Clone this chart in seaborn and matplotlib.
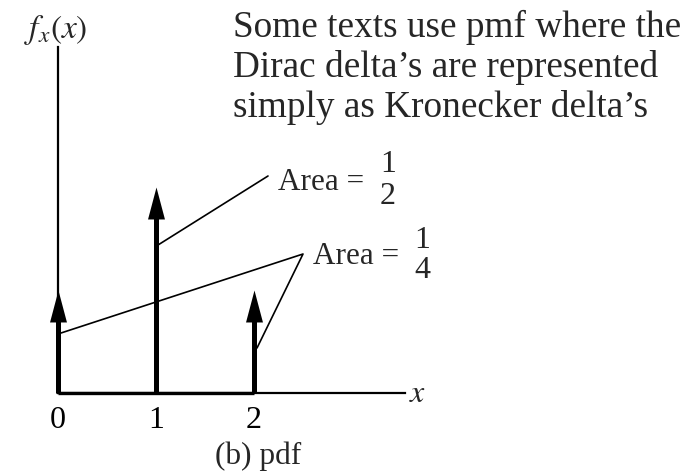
import numpy as np
import matplotlib
matplotlib.use("Agg")
import matplotlib.pyplot as plt
from matplotlib.path import Path
import seaborn as sns

# ---- data ----
xs = [0, 1, 2]
areas = [0.25, 0.5, 0.25]
tick_labels = ["0", "1", "2"]
area_labels = [("1", "2"), ("1", "4")]
note_lines = ["Some texts use pmf where the",
              "Dirac delta\u2019s are represented",
              "simply as Kronecker delta\u2019s"]

sns.set_theme(style="white")
plt.rcParams["font.family"] = ["Liberation Serif", "DejaVu Serif"]
plt.rcParams["mathtext.fontset"] = "stix"

W, H = 699, 475
fig = plt.figure(figsize=(W / 100, H / 100), dpi=100)
ax = fig.add_axes([0, 0, 1, 1])

X0, Y0, SX, SY = 58, 393, 98, 412  # pixel origin and pixels per unit
ax.set_xlim(-X0 / SX, (W - X0) / SX)
ax.set_ylim((Y0 - H) / SY, Y0 / SY)

def d(px, py):
    return ((px - X0) / SX, (Y0 - py) / SY)

def P(px, py):
    return (px / W, 1 - py / H)

# axes spines as the plot axes
for s in ["top", "right"]:
    ax.spines[s].set_visible(False)
ax.spines["left"].set_position(("data", 0))
ax.spines["bottom"].set_position(("data", 0))
ax.spines["left"].set_bounds(0, d(0, 47)[1])
ax.spines["bottom"].set_bounds(0, d(405, 0)[0])
for s in ["left", "bottom"]:
    ax.spines[s].set_color("black")
    ax.spines[s].set_linewidth(1.6)
ax.hlines(0, min(xs), max(xs), color="black", lw=2.4, zorder=3)

ax.set_xticks(xs)
ax.set_xticklabels(tick_labels, fontsize=23)
ax.set_yticks([])
ax.tick_params(axis="x", length=0, pad=9, colors="black")
ax.grid(False)

# stems + arrowheads
head_len = 32 / SY
ax.vlines(xs, 0, np.array(areas) - head_len * 0.9, color="black", lw=3.6, zorder=4)
tri = Path([(-0.265, -1.0), (0.265, -1.0), (0.0, 0.0), (-0.265, -1.0)],
           [Path.MOVETO, Path.LINETO, Path.LINETO, Path.CLOSEPOLY])
sns.scatterplot(x=xs, y=areas, marker=tri, s=2120, color="black",
                linewidth=0, ax=ax, zorder=5, clip_on=False, legend=False)

# pointer lines
lw = 1.2
p = [d(X0 + SX * 1 + 2, 245), d(268, 176)]
ax.plot([p[0][0], p[1][0]], [p[0][1], p[1][1]], color="black", lw=lw)
v = d(303, 254)
a0 = d(X0 + 3, 333)
a2 = d(X0 + 2 * SX + 3, 348)
ax.plot([a0[0], v[0], a2[0]], [a0[1], v[1], a2[1]], color="black", lw=lw)

# area labels
ax.text(*P(278, 182), "Area =", transform=ax.transAxes, fontsize=22.5,
        ha="left", va="center")
ax.text(*P(388, 165), area_labels[0][0], transform=ax.transAxes, fontsize=23,
        ha="center", va="center")
ax.text(*P(388, 196), area_labels[0][1], transform=ax.transAxes, fontsize=23,
        ha="center", va="center")
ax.text(*P(313, 256), "Area =", transform=ax.transAxes, fontsize=22.5,
        ha="left", va="center")
ax.text(*P(422, 240), area_labels[1][0], transform=ax.transAxes, fontsize=23,
        ha="center", va="center")
ax.text(*P(422, 270), area_labels[1][1], transform=ax.transAxes, fontsize=23,
        ha="center", va="center")

# axis labels
ax.text(*P(56, 30), r"$f_x(x)$", transform=ax.transAxes, fontsize=24,
        ha="center", va="center")
ax.text(*P(418, 395), r"$x$", transform=ax.transAxes, fontsize=23,
        ha="center", va="center")
ax.text(*P(258, 456), "(b) pdf", transform=ax.transAxes, fontsize=22.5,
        ha="center", va="center")

# note
for i, line in enumerate(note_lines):
    ax.text(*P(233, 37 + 40 * i), line, transform=ax.transAxes, fontsize=26.8,
            ha="left", va="baseline")

fig.savefig("out.png", dpi=100, facecolor="white")
